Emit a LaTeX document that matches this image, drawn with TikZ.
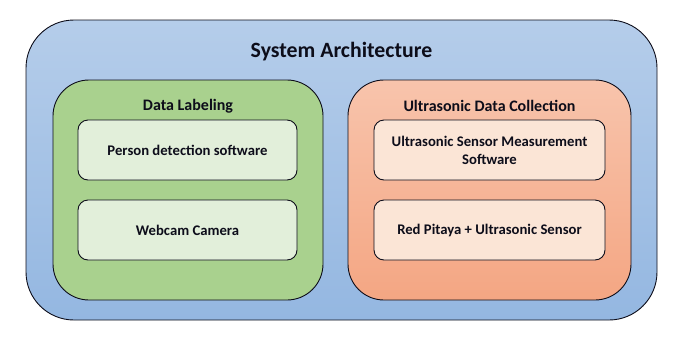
\documentclass[tikz,border=0pt]{standalone}
\usepackage{fontspec}
\setmainfont{Carlito}
\definecolor{outerTop}{HTML}{B5CDEA}
\definecolor{outerBot}{HTML}{94B7E1}
\definecolor{grpGreen}{HTML}{A9D18E}
\definecolor{grpOrTop}{HTML}{F8C4AC}
\definecolor{grpOrBot}{HTML}{F4A683}
\definecolor{boxGreen}{HTML}{E2EFDA}
\definecolor{boxOrange}{HTML}{FBE5D6}
\definecolor{ink}{HTML}{0D0D1A}
\begin{document}
\begin{tikzpicture}[x=1pt,y=-1pt,
  panel/.style={draw=ink, line width=0.9pt, rectangle, inner sep=0pt},
  leaf/.style={panel, rounded corners=10pt, minimum width=#1, minimum height=60pt,
    font=\bfseries\fontsize{14.7}{18}\selectfont, text=ink, align=center},
  heading/.style={font=\bfseries\fontsize{16}{19}\selectfont, text=ink}]
  \useasboundingbox (0,0) rectangle (683,341);
  % outer system frame
  \node[panel, rounded corners=48pt, minimum width=631pt, minimum height=300pt,
        top color=outerTop, bottom color=outerBot] (sys) at (341.5,170) {};
  \node[font=\bfseries\fontsize{21.8}{26}\selectfont, text=ink] (systitle) at (341.5,52) {System Architecture};
  % data labeling group
  \node[panel, rounded corners=36pt, minimum width=270pt, minimum height=220pt,
        fill=grpGreen] (lab) at (188,190) {};
  \node[heading] (labtitle) at (188,106) {Data Labeling};
  \node[leaf=219pt, fill=boxGreen] (person) at (187.5,150) {Person detection software};
  \node[leaf=219pt, fill=boxGreen] (cam) at (187.5,230) {Webcam Camera};
  % ultrasonic collection group
  \node[panel, rounded corners=36pt, minimum width=283pt, minimum height=220pt,
        top color=grpOrTop, bottom color=grpOrBot] (ultra) at (489.5,190) {};
  \node[heading] (ultratitle) at (489.5,106) {Ultrasonic Data Collection};
  \node[leaf=231pt, fill=boxOrange] (meas) at (489.5,150) {Ultrasonic Sensor Measurement\\Software};
  \node[leaf=231pt, fill=boxOrange] (pitaya) at (489.5,230) {Red Pitaya + Ultrasonic Sensor};
\end{tikzpicture}
\end{document}
